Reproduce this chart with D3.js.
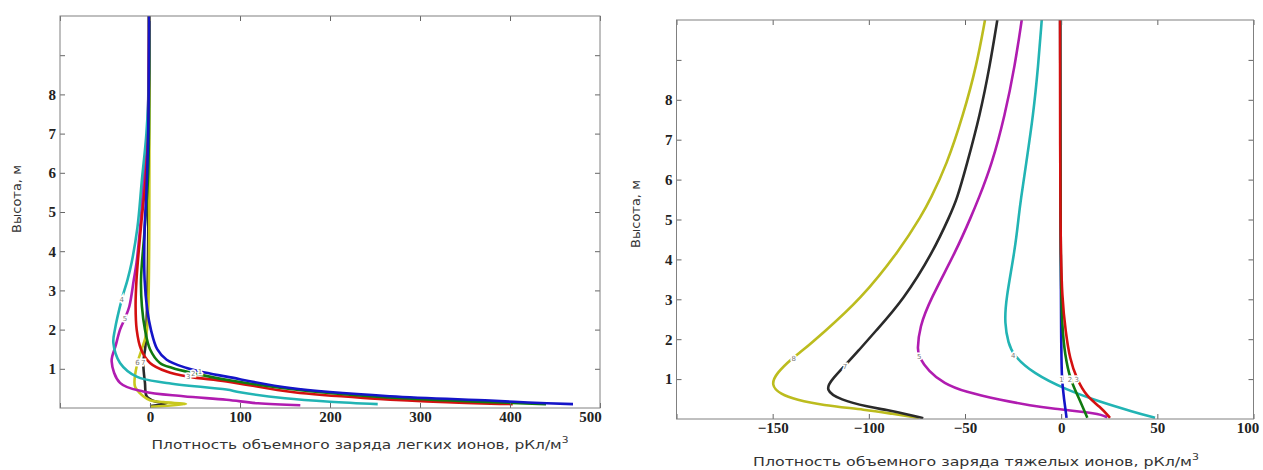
<!DOCTYPE html>
<html>
<head>
<meta charset="utf-8">
<script src="https://cdn.jsdelivr.net/npm/d3@7"></script>
<style>
  body { margin: 0; background: #fff; }
  .tick text { font-family: "Liberation Serif", "DejaVu Serif", serif; font-size: 15px; font-weight: bold; fill: #222; }
  .tick line { stroke: #666; }
  .ttl { font-family: "DejaVu Sans", sans-serif; font-size: 13px; fill: #333; }
</style>
</head>
<body>
<svg id="chart" width="1263" height="470"></svg>
<script>
// light ions, [value pC/m3, height m]
var light1 = [[470,0.1],[420,0.14],[378,0.19],[267,0.3],[156,0.51],[85,0.8],[55.6,0.93],[40.7,1.02],[18.5,1.23],[8,1.5],[1,2.0],[-3,2.5],[-6,3.27],[-6,4.54],[-4,5.5],[-2,7],[-1,10]];
var light2 = [[440,0.1],[380,0.15],[280,0.25],[170,0.45],[90,0.7],[48,0.89],[25,1.02],[11,1.15],[0,1.5],[-5.6,2.0],[-9,2.6],[-10,3.27],[-6,4.54],[-2,6],[-1,10]];
var light3 = [[403,0.1],[330,0.15],[250,0.24],[160,0.4],[85,0.68],[42.6,0.8],[18.5,0.93],[0,1.15],[-10,1.5],[-14.8,2.0],[-16,2.6],[-15,3.27],[-10.4,4.54],[-5,5.8],[-2,7],[-1,10]];
var light4 = [[253,0.1],[200,0.16],[150,0.25],[100,0.4],[85,0.47],[18.5,0.64],[-14.8,0.8],[-33.3,1.15],[-40.7,1.66],[-39,2.0],[-31.5,2.76],[-25,3.27],[-20.5,3.7],[-14,4.6],[-9,5.82],[-4,7],[-1,8.5],[-1,10]];
var light5 = [[167,0.07],[120,0.12],[85,0.21],[37,0.3],[-7.4,0.42],[-33.3,0.64],[-42.6,1.19],[-38,1.6],[-33.3,2.0],[-27.8,2.29],[-23,2.59],[-18,3.27],[-15,3.7],[-11,4.6],[-7,5.82],[-3,7],[-1,10]];
var light6 = [[0,0.03],[40,0.1],[15,0.15],[0,0.2],[-7.4,0.3],[-16.7,0.55],[-14,1.15],[-9.3,1.49],[-4,1.9],[-2,2.5],[-1,10]];
var light7 = [[0,0.05],[18.5,0.12],[5,0.17],[-3.7,0.3],[-5.6,0.64],[-7.4,1.15],[-5,1.6],[-2.6,3.27],[-1.9,4.54],[-1,10]];

// heavy ions
var heavy8 = [[-74,0.03],[-88,0.13],[-101,0.23],[-125,0.35],[-137.5,0.48],[-146,0.62],[-151,0.85],[-148,1.15],[-140,1.52],[-134,1.73],[-124,2.15],[-104.6,2.98],[-83.8,4.24],[-72.5,5.11],[-68.2,5.49],[-59.5,6.37],[-50.9,7.62],[-43.9,8.87],[-39.6,10]];
var heavy7 = [[-71.7,0.02],[-80,0.12],[-91,0.23],[-100,0.3],[-115,0.48],[-123,0.73],[-119,1.0],[-113,1.31],[-105,1.73],[-97.5,2.15],[-82,2.98],[-66,4.24],[-57.8,5.11],[-54.3,5.49],[-49.1,6.37],[-42.2,7.62],[-37,8.87],[-33.2,10]];
var heavy5 = [[24,0.04],[20,0.14],[-6,0.27],[-15,0.33],[-32,0.48],[-50,0.68],[-61,0.89],[-69,1.2],[-74,1.56],[-74.8,1.73],[-73.6,2.31],[-68.2,2.98],[-54.3,4.24],[-46.5,5.11],[-43.2,5.49],[-36.1,6.37],[-29.2,7.62],[-24,8.87],[-20.5,10]];
var heavy4 = [[48.8,0.03],[37.5,0.18],[20.2,0.43],[2.8,0.73],[-14.5,1.14],[-24.9,1.6],[-27.5,1.9],[-29.4,2.4],[-28.8,2.98],[-24,4.24],[-22,5.11],[-21,5.49],[-18.3,6.37],[-14.5,7.62],[-11.9,8.87],[-10.1,10]];
var heavy3 = [[25.4,0.03],[20.2,0.31],[13.3,0.56],[8.1,1.0],[4.5,1.5],[2.3,2.2],[0.5,3],[-0.5,4.5],[-0.6,10]];
var heavy2 = [[13.6,0.03],[8.9,0.56],[4.6,1.0],[2,1.6],[0.5,2.3],[-0.3,3.5],[-0.5,10]];
var heavy1 = [[2.8,0.03],[1.5,0.5],[0.2,1.0],[0,2.2],[-0.3,4],[-0.5,10]];

// curve number labels: [text, value, height]
var lightLabels = [["1",55.6,0.93],["2",48,0.89],["3",42.6,0.8],["4",-31.5,2.76],["5",-27.8,2.29],["6",-14,1.15],["7",-7.4,1.15]];
var heavyLabels = [["8",-139,1.52],["7",-112.4,1.31],["5",-73.8,1.56],["4",-24.9,1.6],["1",0.2,1.0],["2",4.6,1.0],["3",8.1,1.0]];

var lightXTicks = [-100,0,100,200,300,400,500];
var heavyXTicks = [-200,-150,-100,-50,0,50,100];
var yTicks = [1,2,3,4,5,6,7,8,9];

var colors = {"1":"#1414c8","2":"#107a10","3":"#d41010","4":"#22b4b4","5":"#b01cb0","6":"#c8c81e","7":"#2a2a2a","8":"#bcbc1e"};

var svg = d3.select("#chart");
svg.append("rect").attr("width",1263).attr("height",470).attr("fill","#fff");

function drawPanel(id, box, xDomain, xTicks, series, labels, xTitle, xTitleLen, yTitlePos, xTitlePos, lastShift, curve) {
    var x = d3.scaleLinear().domain(xDomain).range([box.x0, box.x1]);
    var y = d3.scaleLinear().domain([0,10]).range([box.y1, box.y0]);

    var g = svg.append("g");

    g.append("clipPath").attr("id", "clip" + id)
      .append("rect").attr("x", box.x0).attr("y", box.y0)
        .attr("width", box.x1 - box.x0).attr("height", box.y1 - box.y0);

    var line = d3.line()
        .x(function(d) { return x(d[0]); })
        .y(function(d) { return y(d[1]); })
        .curve(curve);

    var plot = g.append("g").attr("clip-path", "url(#clip" + id + ")");
    series.forEach(function(s) {
        plot.append("path")
            .attr("d", line(s.pts))
            .attr("fill", "none")
            .attr("stroke", colors[s.id])
            .attr("stroke-width", 2.6)
            .attr("stroke-linejoin", "round");
    });

    plot.selectAll(".lbl")
      .data(labels)
      .enter().append("text")
        .attr("x", function(d) { return x(d[1]); })
        .attr("y", function(d) { return y(d[2]); })
        .attr("dy", "0.35em")
        .attr("text-anchor", "middle")
        .attr("font-family", "DejaVu Sans, sans-serif")
        .attr("font-size", 7)
        .attr("fill", "#777")
        .attr("stroke", "#fff")
        .attr("stroke-width", 3)
        .attr("paint-order", "stroke")
        .text(function(d) { return d[0]; });

    var fmt = function(d) { return d === xDomain[0] ? "" : String(d).replace("-", "\u2212"); };

    var bx = g.append("g")
        .attr("transform", "translate(0," + box.y1 + ")")
        .call(d3.axisBottom(x).tickValues(xTicks).tickSizeInner(-5).tickSizeOuter(0).tickPadding(3).tickFormat(fmt))
        .call(function(a) { a.select(".domain").remove(); });
    bx.selectAll(".tick text").filter(function(d) { return d === xDomain[1]; }).attr("dx", lastShift);

    g.append("g")
        .attr("transform", "translate(0," + box.y0 + ")")
        .call(d3.axisTop(x).tickValues(xTicks).tickSizeInner(-5).tickSizeOuter(0).tickFormat(""))
        .call(function(a) { a.select(".domain").remove(); });
    g.append("g")
        .attr("transform", "translate(" + box.x0 + ",0)")
        .call(d3.axisLeft(y).tickValues(yTicks).tickSizeInner(-5).tickSizeOuter(0).tickPadding(4)
            .tickFormat(function(d) { return d < 9 ? d : ""; }))
        .call(function(a) { a.select(".domain").remove(); });
    g.append("g")
        .attr("transform", "translate(" + box.x1 + ",0)")
        .call(d3.axisRight(y).tickValues(yTicks).tickSizeInner(-5).tickSizeOuter(0).tickFormat(""))
        .call(function(a) { a.select(".domain").remove(); });
    g.selectAll(".tick text").attr("font-family", null).attr("font-size", null);

    g.append("rect")
        .attr("x", box.x0).attr("y", box.y0)
        .attr("width", box.x1 - box.x0).attr("height", box.y1 - box.y0)
        .attr("fill", "none").attr("stroke", "#808080").attr("stroke-width", 1);

    var t = g.append("text").attr("class", "ttl")
        .attr("x", xTitlePos[0]).attr("y", xTitlePos[1])
        .attr("text-anchor", "middle")
        .attr("textLength", xTitleLen).attr("lengthAdjust", "spacingAndGlyphs");
    t.append("tspan").text(xTitle);
    t.append("tspan").attr("dy", -6).attr("font-size", 9).text("3");

    g.append("text").attr("class", "ttl")
        .attr("transform", "translate(" + yTitlePos[0] + "," + yTitlePos[1] + ") rotate(-90)")
        .attr("text-anchor", "middle")
        .attr("dy", "0.35em")
        .attr("font-size", 14)
        .text("Высота, м");
}

drawPanel("L", {x0:60, x1:600, y0:16, y1:408}, [-100,500], lightXTicks,
    [{id:"7",pts:light7},{id:"6",pts:light6},{id:"5",pts:light5},{id:"4",pts:light4},{id:"3",pts:light3},{id:"2",pts:light2},{id:"1",pts:light1}],
    lightLabels, "Плотность объемного заряда легких ионов, рКл/м", 417, [16,199], [360,449], -10,
    d3.curveCatmullRom.alpha(0.5));

drawPanel("R", {x0:676.5, x1:1253.5, y0:20, y1:419}, [-200,100], heavyXTicks,
    [{id:"8",pts:heavy8},{id:"7",pts:heavy7},{id:"5",pts:heavy5},{id:"4",pts:heavy4},{id:"1",pts:heavy1},{id:"2",pts:heavy2},{id:"3",pts:heavy3}],
    heavyLabels, "Плотность объемного заряда тяжелых ионов, рКл/м", 446, [635,214], [976,466], -6,
    d3.curveBasis);
</script>
</body>
</html>
